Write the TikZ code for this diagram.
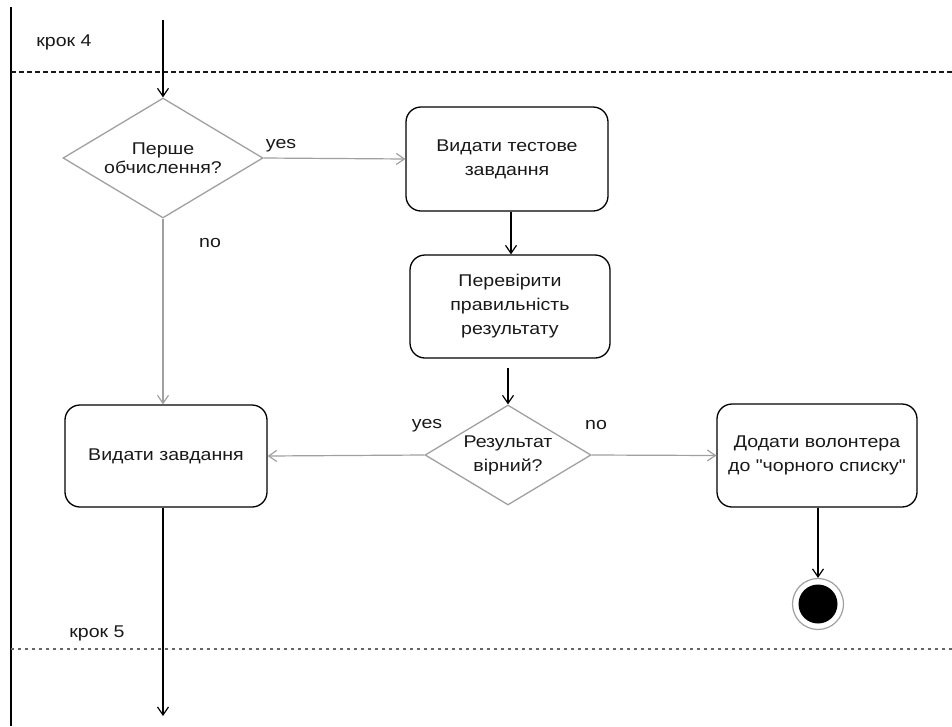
\documentclass[tikz,border=0pt]{standalone}
\usepackage{fontspec}
\setmainfont{Liberation Sans}[FakeStretch=1.15, Ligatures=TeXOff]
\usetikzlibrary{shapes.geometric,arrows.meta}
\definecolor{edgegray}{HTML}{A0A0A0}
\tikzset{
  base/.style={font=\fontsize{17}{24}\selectfont, align=center, text=black!90},
  actbox/.style={base, draw=black, line width=1.3pt, rounded corners=15pt, inner sep=0pt},
  decision/.style={base, shape=diamond, draw=edgegray, line width=1.3pt, inner sep=0pt,
    minimum width=200pt, minimum height=120pt, shape aspect=1.667},
  flow/.style={line width=1.2pt, -{Straight Barb[length=8pt,width=11pt]}},
  gflow/.style={flow, draw=edgegray},
  lbl/.style={base, inner sep=0pt},
}
\begin{document}
\begin{tikzpicture}[x=1pt,y=-1pt]
\useasboundingbox (0,0) rectangle (952,726);
% swimlane frame and step separators
\draw[line width=1.5pt] (11,7) -- (11,726);
\draw[line width=1.2pt, black!90, dash pattern=on 5pt off 3pt] (11,72) -- (952,72);
\draw[line width=1.5pt, black!60, dash pattern=on 3pt off 4pt] (11,649) -- (952,649);
\node[lbl] (step4) at (64,42) {крок 4};
\node[lbl] (step5) at (97,633) {крок 5};

% decisions
\node[decision] (d1) at (163,158) {\raisebox{-4pt}{\shortstack{Перше\\обчислення?}}};
\node[decision, minimum width=166pt, minimum height=100pt, shape aspect=1.66] (d2) at (508,455) {Результат\\вірний?};

% actions
\node[actbox, minimum width=202pt, minimum height=104pt] (b1) at (507,159) {Видати тестове\\завдання};
\node[actbox, minimum width=200pt, minimum height=103pt] (b2) at (510,306.5) {Перевірити\\правильність\\результату};
\node[actbox, minimum width=202pt, minimum height=102pt] (b3) at (166,456) {Видати завдання};
\node[actbox, minimum width=200pt, minimum height=103pt] (b4) at (817,455.5) {Додати волонтера\\до "чорного списку"};

% final node
\node[circle, draw=edgegray, line width=1.2pt, minimum size=51pt, inner sep=0pt] (end) at (818,604) {};
\fill[black] (end.center) circle (19.5pt);

% free ends
\coordinate (in) at (163,20);
\coordinate (out) at (163,716);
\coordinate (b2tail) at (508,368);

% connectors
\draw[flow] (in) -- (d1.north);
\draw[gflow] (d1.east) -- (b1.west);
\draw[flow] (b1.south -| 511,0) -- (b2.north -| 511,0);
\draw[flow] (b2tail) -- (d2.north);
\draw[gflow] (d1.south) -- (b3.north -| d1.south);
\draw[gflow] (d2.west) -- (b3.east);
\draw[gflow] (d2.east) -- (b4.west);
\draw[flow] (b4.south -| end.north) -- (end.north);
\draw[flow] (b3.south -| d1.south) -- (out);

% branch labels
\node[lbl] (y1) at (281,146) {yes};
\node[lbl] (n1) at (210,243) {no};
\node[lbl] (y2) at (427,426) {yes};
\node[lbl] (n2) at (596,425) {no};
\end{tikzpicture}
\end{document}
